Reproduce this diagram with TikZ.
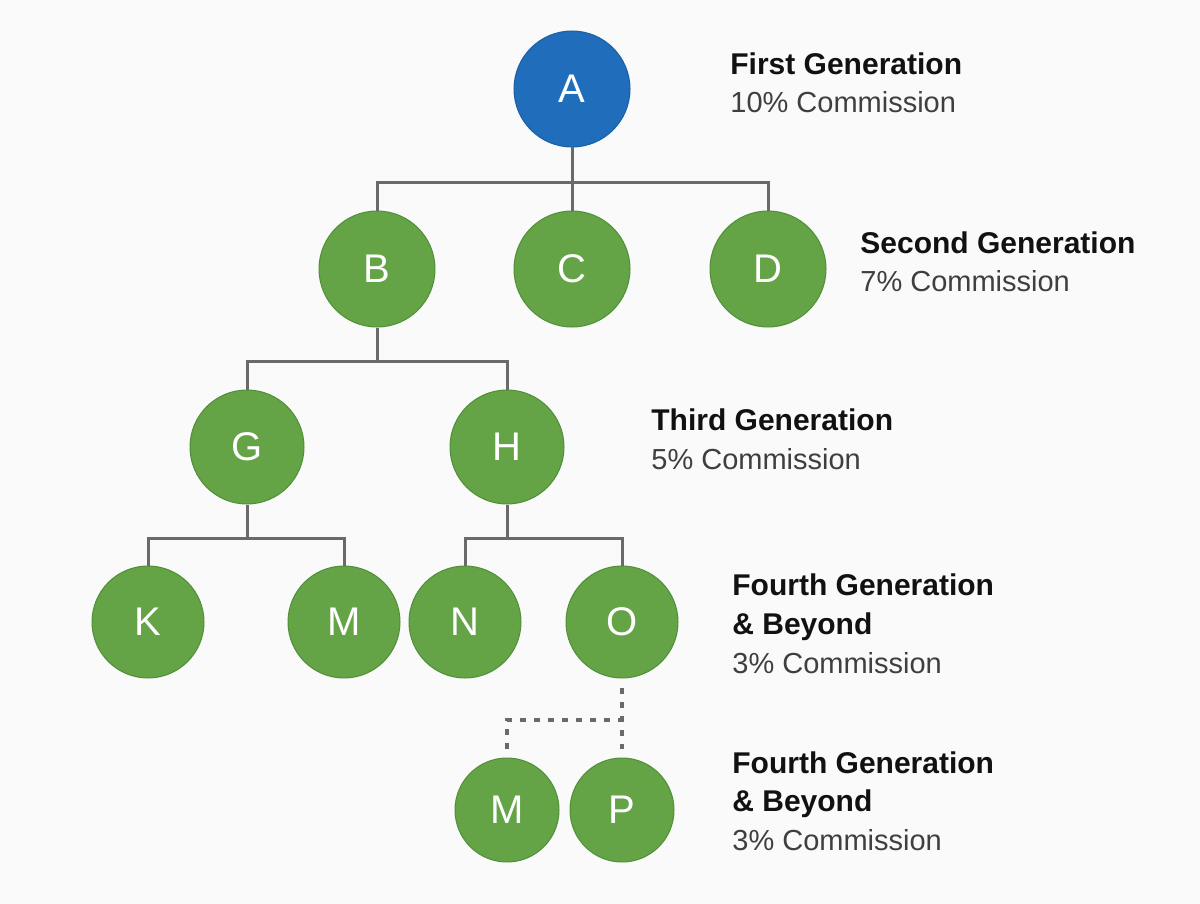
\documentclass[tikz,border=0pt]{standalone}
\usepackage{fontspec}
\setmainfont{Liberation Sans}
\begin{document}
\begin{tikzpicture}[x=0.5pt,y=-0.5pt,
  conn/.style={draw=linegray,line width=1.5pt},
  dotconn/.style={draw=linegray,line width=1.6pt,dash pattern=on 3pt off 4pt},
  person/.style={circle,fill=nodegreen,draw=nodeborder,line width=0.5pt,inner sep=0pt,
    text=white,font=\fontsize{20}{24}\selectfont},
  big/.style={person,minimum size=58pt},
  mid/.style={person,minimum size=57pt},
  small/.style={person,minimum size=56pt},
  tiny/.style={person,minimum size=52pt},
  head/.style={anchor=base west,inner sep=0pt,text=headblack,font=\fontsize{15}{18}\selectfont\bfseries},
  sub/.style={anchor=base west,inner sep=0pt,text=subgray,font=\fontsize{14.5}{17}\selectfont}
]
\definecolor{linegray}{HTML}{6A6A6A}
\definecolor{nodegreen}{HTML}{64A446}
\definecolor{nodeborder}{HTML}{4F8F37}
\definecolor{nodeblue}{HTML}{1F6DBB}
\definecolor{blueborder}{HTML}{1A5EA3}
\definecolor{headblack}{HTML}{111111}
\definecolor{subgray}{HTML}{3F3F3F}
\definecolor{bg}{HTML}{FAFAFA}
\fill[bg] (0,0) rectangle (1200,904);
\useasboundingbox (0,0) rectangle (1200,904);

% nodes
\node[big,fill=nodeblue,draw=blueborder] (A) at (572,89) {A};
\node[big] (B) at (377,269) {B};
\node[big] (C) at (572,269) {C};
\node[big] (D) at (768,269) {D};
\node[mid] (G) at (247,447) {G};
\node[mid] (H) at (507,447) {H};
\node[small] (K) at (148,622) {K};
\node[small] (M) at (344,622) {M};
\node[small] (N) at (465,622) {N};
\node[small] (O) at (622,622) {O};
\node[tiny] (M2) at (507,810) {M};
\node[tiny] (P) at (622,810) {P};

% junctions
\coordinate (jA) at (572,183);
\coordinate (jB) at (377,361);
\coordinate (jG) at (247,538);
\coordinate (jH) at (507,538);
\coordinate (jO) at (622,720);
\coordinate (sO) at (622,688);
\coordinate (eM2) at (507,749);
\coordinate (eP) at (622,749);

% connectors
\draw[conn] (A.south) -- (jA);
\draw[conn] (B.north) |- (jA) -| (D.north);
\draw[conn] (C.north) -- (jA);
\draw[conn] (B.south) -- (jB);
\draw[conn] (G.north) |- (jB) -| (H.north);
\draw[conn] (G.south) -- (jG);
\draw[conn] (K.north) |- (jG) -| (M.north);
\draw[conn] (H.south) -- (jH);
\draw[conn] (N.north) |- (jH) -| (O.north);
\draw[dotconn] (sO) -- (jO);
\draw[dotconn] (eM2) |- (jO) -- (eP);

% labels
\node[head] (t1) at (730,75) {First Generation};
\node[sub] (s1) at (730,113) {10\% Commission};
\node[head] (t2) at (860,253) {Second Generation};
\node[sub] (s2) at (860,291) {7\% Commission};
\node[head] (t3) at (651,430) {Third Generation};
\node[sub] (s3) at (651,469) {5\% Commission};
\node[head] (t4) at (732,595) {Fourth Generation};
\node[head] (b4) at (732,634) {\& Beyond};
\node[sub] (s4) at (732,673) {3\% Commission};
\node[head] (t5) at (732,773) {Fourth Generation};
\node[head] (b5) at (732,811) {\& Beyond};
\node[sub] (s5) at (732,850) {3\% Commission};
\end{tikzpicture}
\end{document}
